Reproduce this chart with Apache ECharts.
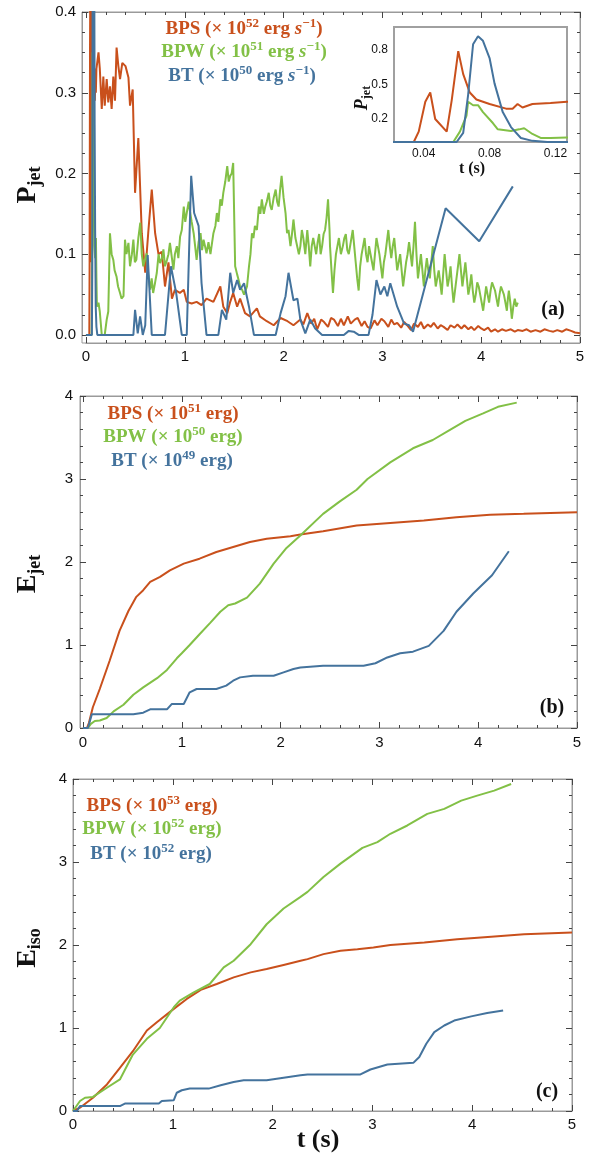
<!DOCTYPE html>
<html>
<head>
<meta charset="utf-8">
<script src="https://cdn.jsdelivr.net/npm/echarts@6.0.0/dist/echarts.min.js"></script>
<style>
  html, body { margin: 0; padding: 0; background: #fff; }
  #main { width: 593px; height: 1155px; }
</style>
</head>
<body>
<div id="main"></div>
<script>
// ---- data: [t (s), value] ----
// (a) jet power; the first points are the early burst shown in the inset
const bpsPower = [
  [0, 0], [0.034, 0], [0.037, 0.09], [0.041, 0.35], [0.044, 0.43], [0.047, 0.2], [0.054, 0.09],
  [0.057, 0.36], [0.061, 0.79], [0.064, 0.59], [0.068, 0.43], [0.072, 0.37], [0.08, 0.33],
  [0.09, 0.29], [0.094, 0.29], [0.097, 0.33], [0.1, 0.3], [0.106, 0.33], [0.117, 0.34], [0.127, 0.35],
  [0.14, 0.33], [0.16, 0.28], [0.176, 0.32], [0.19, 0.284], [0.21, 0.317], [0.226, 0.288], [0.243, 0.308],
  [0.26, 0.28], [0.277, 0.32], [0.294, 0.29], [0.31, 0.356], [0.328, 0.333], [0.345, 0.317], [0.368, 0.337],
  [0.4, 0.333], [0.43, 0.319], [0.446, 0.284], [0.473, 0.304], [0.497, 0.176], [0.53, 0.244], [0.565, 0.126],
  [0.6, 0.077], [0.63, 0.126], [0.666, 0.18], [0.7, 0.126], [0.734, 0.1], [0.767, 0.103], [0.8, 0.06],
  [0.835, 0.09], [0.87, 0.045], [0.9, 0.056], [0.95, 0.052], [0.99, 0.056], [1.02, 0.041], [1.07, 0.039],
  [1.12, 0.041], [1.17, 0.037], [1.22, 0.045], [1.29, 0.041], [1.36, 0.06], [1.39, 0.035], [1.43, 0.027],
  [1.46, 0.041], [1.49, 0.052], [1.53, 0.035], [1.56, 0.045], [1.61, 0.027], [1.66, 0.023], [1.73, 0.033],
  [1.76, 0.023], [1.83, 0.017], [1.9, 0.012], [1.97, 0.021], [2.04, 0.017], [2.1, 0.012], [2.17, 0.019],
  [2.2, 0.013], [2.24, 0.027], [2.28, 0.014], [2.31, 0.02], [2.34, 0.007], [2.38, 0.019], [2.41, 0.016],
  [2.45, 0.01], [2.48, 0.021], [2.51, 0.019], [2.55, 0.011], [2.58, 0.02], [2.61, 0.012], [2.65, 0.023],
  [2.68, 0.014], [2.72, 0.019], [2.75, 0.021], [2.79, 0.011], [2.82, 0.017], [2.85, 0.01], [2.88, 0.008],
  [2.92, 0.018], [2.95, 0.012], [2.99, 0.02], [3.02, 0.017], [3.06, 0.01], [3.09, 0.019], [3.12, 0.013],
  [3.15, 0.015], [3.19, 0.009], [3.22, 0.016], [3.25, 0.012], [3.29, 0.006], [3.32, 0.014], [3.36, 0.01],
  [3.39, 0.016], [3.42, 0.008], [3.46, 0.013], [3.49, 0.01], [3.52, 0.015], [3.56, 0.008], [3.59, 0.012],
  [3.62, 0.01], [3.66, 0.006], [3.69, 0.012], [3.73, 0.009], [3.76, 0.013], [3.8, 0.008], [3.83, 0.012],
  [3.87, 0.007], [3.9, 0.01], [3.93, 0.006], [3.97, 0.011], [4.0, 0.008], [4.03, 0.006], [4.07, 0.009],
  [4.1, 0.004], [4.14, 0.007], [4.17, 0.004], [4.21, 0.007], [4.25, 0.005], [4.3, 0.007], [4.34, 0.004],
  [4.37, 0.006], [4.42, 0.005], [4.46, 0.007], [4.5, 0.004], [4.55, 0.006], [4.6, 0.004], [4.64, 0.007],
  [4.69, 0.005], [4.73, 0.004], [4.77, 0.006], [4.82, 0.004], [4.86, 0.007], [4.91, 0.005], [4.95, 0.003],
  [5.0, 0.002]
];
const bpwPower = [
  [0, 0], [0.058, 0], [0.062, 0.09], [0.066, 0.23], [0.067, 0.35], [0.07, 0.32], [0.073, 0.32],
  [0.076, 0.26], [0.082, 0.165], [0.085, 0.11], [0.093, 0.095], [0.098, 0.11], [0.101, 0.12],
  [0.106, 0.07], [0.111, 0.035], [0.117, 0.035], [0.127, 0.04], [0.14, 0.029], [0.16, 0], [0.19, 0],
  [0.21, 0.019], [0.226, 0.029], [0.243, 0.126], [0.26, 0.1], [0.277, 0.093], [0.29, 0.08], [0.31, 0.072],
  [0.325, 0.06], [0.345, 0.052], [0.36, 0.045], [0.38, 0.048], [0.395, 0.118], [0.41, 0.1], [0.43, 0.114],
  [0.446, 0.085], [0.465, 0.1], [0.48, 0.118], [0.495, 0.09], [0.51, 0.093], [0.53, 0.12],
  [0.55, 0.139], [0.565, 0.1], [0.58, 0.085], [0.6, 0.095], [0.615, 0.101], [0.63, 0.075], [0.65, 0.056],
  [0.665, 0.07], [0.68, 0.052], [0.7, 0.065], [0.717, 0.077], [0.735, 0.1], [0.75, 0.089], [0.77, 0.095],
  [0.784, 0.106], [0.8, 0.085], [0.82, 0.093], [0.835, 0.1], [0.85, 0.114], [0.87, 0.095], [0.885, 0.081],
  [0.9, 0.1], [0.92, 0.11], [0.935, 0.095], [0.953, 0.122], [0.97, 0.13], [0.99, 0.159], [1.005, 0.14],
  [1.02, 0.151], [1.04, 0.165], [1.055, 0.151], [1.07, 0.14], [1.09, 0.126], [1.105, 0.11], [1.12, 0.093],
  [1.14, 0.115], [1.16, 0.126], [1.175, 0.105], [1.19, 0.118], [1.205, 0.11], [1.22, 0.101],
  [1.24, 0.115], [1.26, 0.1], [1.29, 0.126], [1.31, 0.135], [1.325, 0.151], [1.34, 0.14], [1.36, 0.168],
  [1.375, 0.16], [1.39, 0.176], [1.41, 0.19], [1.43, 0.209], [1.445, 0.19], [1.46, 0.197], [1.475, 0.2],
  [1.49, 0.213], [1.51, 0.085], [1.53, 0.075], [1.545, 0.068], [1.56, 0.06], [1.58, 0.056], [1.6, 0.05],
  [1.63, 0.06], [1.65, 0.085], [1.665, 0.1], [1.68, 0.126], [1.695, 0.12], [1.71, 0.135], [1.73, 0.13],
  [1.75, 0.159], [1.765, 0.15], [1.78, 0.168], [1.8, 0.15], [1.815, 0.159], [1.83, 0.165], [1.85, 0.176],
  [1.865, 0.16], [1.88, 0.155], [1.9, 0.17], [1.92, 0.18], [1.935, 0.165], [1.95, 0.159], [1.965, 0.18],
  [1.98, 0.197], [2.0, 0.17], [2.02, 0.151], [2.035, 0.126], [2.05, 0.13], [2.07, 0.11], [2.085, 0.125],
  [2.1, 0.143], [2.12, 0.12], [2.14, 0.118], [2.155, 0.1], [2.17, 0.11], [2.185, 0.13], [2.2, 0.12],
  [2.22, 0.1], [2.24, 0.13], [2.255, 0.11], [2.27, 0.085], [2.285, 0.11], [2.3, 0.12], [2.315, 0.11],
  [2.33, 0.1], [2.345, 0.115], [2.36, 0.125], [2.375, 0.1], [2.39, 0.11], [2.405, 0.125], [2.42, 0.13],
  [2.435, 0.145], [2.45, 0.168], [2.465, 0.13], [2.47, 0.11], [2.485, 0.08], [2.5, 0.052], [2.515, 0.08],
  [2.53, 0.1], [2.545, 0.11], [2.56, 0.12], [2.58, 0.1], [2.6, 0.11], [2.615, 0.12], [2.63, 0.125],
  [2.645, 0.105], [2.66, 0.1], [2.68, 0.115], [2.7, 0.13], [2.715, 0.11], [2.73, 0.09], [2.745, 0.07],
  [2.76, 0.055], [2.775, 0.085], [2.79, 0.1], [2.805, 0.11], [2.82, 0.12], [2.835, 0.1], [2.85, 0.09],
  [2.865, 0.11], [2.88, 0.1], [2.895, 0.09], [2.91, 0.08], [2.925, 0.1], [2.94, 0.12], [2.955, 0.11],
  [2.97, 0.1], [2.985, 0.085], [3.0, 0.07], [3.015, 0.09], [3.03, 0.1], [3.045, 0.115], [3.06, 0.13],
  [3.075, 0.11], [3.09, 0.095], [3.105, 0.11], [3.12, 0.12], [3.135, 0.1], [3.15, 0.08], [3.165, 0.09],
  [3.18, 0.1], [3.195, 0.08], [3.21, 0.06], [3.225, 0.075], [3.24, 0.09], [3.255, 0.1], [3.27, 0.115],
  [3.285, 0.1], [3.3, 0.085], [3.315, 0.11], [3.33, 0.14], [3.345, 0.1], [3.36, 0.07], [3.375, 0.085],
  [3.39, 0.1], [3.405, 0.08], [3.42, 0.06], [3.435, 0.08], [3.45, 0.095], [3.465, 0.08], [3.48, 0.07],
  [3.495, 0.09], [3.51, 0.11], [3.525, 0.08], [3.54, 0.06], [3.555, 0.07], [3.57, 0.08], [3.585, 0.065],
  [3.6, 0.05], [3.615, 0.075], [3.63, 0.1], [3.645, 0.08], [3.66, 0.06], [3.675, 0.07], [3.69, 0.085],
  [3.705, 0.06], [3.72, 0.04], [3.735, 0.055], [3.75, 0.07], [3.765, 0.085], [3.78, 0.1], [3.795, 0.08],
  [3.81, 0.06], [3.825, 0.075], [3.84, 0.09], [3.855, 0.07], [3.87, 0.05], [3.885, 0.06], [3.9, 0.075],
  [3.915, 0.055], [3.93, 0.04], [3.945, 0.05], [3.96, 0.065], [3.975, 0.06], [3.99, 0.05], [4.005, 0.04],
  [4.02, 0.03], [4.035, 0.045], [4.05, 0.06], [4.065, 0.05], [4.08, 0.04], [4.095, 0.055], [4.11, 0.065],
  [4.125, 0.06], [4.14, 0.055], [4.155, 0.045], [4.17, 0.035], [4.185, 0.05], [4.2, 0.06], [4.215, 0.055],
  [4.23, 0.05], [4.245, 0.04], [4.26, 0.03], [4.27, 0.045], [4.28, 0.055], [4.295, 0.04], [4.31, 0.02],
  [4.325, 0.035], [4.34, 0.045], [4.355, 0.035], [4.37, 0.04]
];
const btPower = [
  [0, 0], [0.06, 0], [0.064, 0.08], [0.067, 0.41], [0.07, 0.85], [0.073, 0.92], [0.076, 0.88],
  [0.08, 0.73], [0.083, 0.51], [0.088, 0.26], [0.093, 0.13], [0.099, 0.035], [0.106, 0.01], [0.115, 0],
  [0.48, 0], [0.497, 0.031], [0.524, 0.002], [0.548, 0.023], [0.575, 0], [0.6, 0.012], [0.625, 0.099],
  [0.666, 0], [0.8, 0], [0.86, 0.085], [0.913, 0.052], [0.97, 0], [1.02, 0], [1.065, 0.197],
  [1.095, 0.151], [1.14, 0.135], [1.17, 0.064], [1.22, 0], [1.34, 0], [1.376, 0.031], [1.42, 0.019],
  [1.46, 0.077], [1.49, 0.052], [1.53, 0.068], [1.56, 0.056], [1.6, 0.064], [1.65, 0.035], [1.7, 0],
  [1.92, 0], [1.97, 0.027], [2.02, 0.048], [2.05, 0.077], [2.1, 0.043], [2.14, 0.045], [2.17, 0.019],
  [2.22, 0.002], [2.27, 0.019], [2.32, 0.008], [2.39, 0], [2.61, 0], [2.66, 0.005], [2.71, 0.004],
  [2.76, 0], [2.86, 0], [2.9, 0.025], [2.94, 0.068], [2.98, 0.05], [3.02, 0.06], [3.05, 0.048],
  [3.08, 0.064], [3.15, 0.035], [3.22, 0.014], [3.27, 0.012], [3.31, 0.004], [3.64, 0.157],
  [3.98, 0.116], [4.32, 0.184]
];
// (b) jet energy
const bpsEjet = [
  [0, 0], [0.04, 0], [0.06, 0.06], [0.1, 0.25], [0.17, 0.47], [0.27, 0.81], [0.37, 1.17], [0.46, 1.41],
  [0.54, 1.58], [0.61, 1.66], [0.68, 1.76], [0.78, 1.82], [0.88, 1.9], [1.02, 1.98], [1.18, 2.04],
  [1.35, 2.12], [1.52, 2.18], [1.69, 2.24], [1.86, 2.28], [2.1, 2.31], [2.2, 2.33], [2.43, 2.37],
  [2.77, 2.44], [3.11, 2.47], [3.45, 2.5], [3.78, 2.54], [4.12, 2.57], [4.46, 2.58], [5.0, 2.6]
];
const bpwEjet = [
  [0, 0], [0.05, 0], [0.08, 0.05], [0.12, 0.085], [0.17, 0.09], [0.24, 0.12], [0.31, 0.2], [0.41, 0.28],
  [0.51, 0.4], [0.61, 0.49], [0.75, 0.6], [0.85, 0.7], [0.95, 0.84], [1.0, 0.9], [1.08, 1.0],
  [1.18, 1.13], [1.29, 1.27], [1.39, 1.4], [1.47, 1.48], [1.54, 1.5], [1.66, 1.57], [1.79, 1.74],
  [1.93, 1.98], [2.06, 2.17], [2.2, 2.32], [2.43, 2.58], [2.6, 2.73], [2.77, 2.87], [2.88, 3.0],
  [3.11, 3.2], [3.34, 3.37], [3.54, 3.47], [3.71, 3.59], [3.87, 3.7], [4.05, 3.79], [4.2, 3.87], [4.39, 3.92]
];
const btEjet = [
  [0, 0], [0.05, 0], [0.09, 0.165], [0.51, 0.165], [0.61, 0.185], [0.68, 0.225], [0.85, 0.225],
  [0.9, 0.29], [1.02, 0.29], [1.08, 0.43], [1.15, 0.47], [1.35, 0.47], [1.45, 0.51], [1.52, 0.57],
  [1.59, 0.61], [1.72, 0.63], [1.93, 0.63], [2.03, 0.67], [2.13, 0.71], [2.2, 0.73], [2.43, 0.75],
  [2.84, 0.75], [2.96, 0.78], [3.08, 0.85], [3.21, 0.9], [3.34, 0.92], [3.5, 0.99], [3.65, 1.17],
  [3.78, 1.4], [3.95, 1.62], [4.14, 1.84], [4.31, 2.13]
];
// (c) isotropic energy
const bpsEiso = [
  [0, 0], [0.02, 0], [0.07, 0.04], [0.2, 0.16], [0.34, 0.32], [0.47, 0.52], [0.6, 0.72], [0.74, 0.97],
  [0.84, 1.07], [1.01, 1.23], [1.14, 1.35], [1.28, 1.46], [1.44, 1.53], [1.61, 1.61], [1.78, 1.67],
  [1.94, 1.71], [2.11, 1.76], [2.28, 1.81], [2.35, 1.83], [2.51, 1.89], [2.68, 1.93], [2.85, 1.95],
  [3.01, 1.97], [3.18, 2.0], [3.52, 2.03], [3.85, 2.07], [4.19, 2.1], [4.52, 2.13], [5.0, 2.15]
];
const bpwEiso = [
  [0, 0], [0.02, 0], [0.07, 0.12], [0.12, 0.16], [0.2, 0.17], [0.34, 0.28], [0.47, 0.38], [0.6, 0.68],
  [0.74, 0.87], [0.87, 1.0], [1.01, 1.25], [1.07, 1.33], [1.21, 1.43], [1.37, 1.53], [1.51, 1.73],
  [1.61, 1.81], [1.78, 2.01], [1.94, 2.25], [2.11, 2.44], [2.28, 2.58], [2.35, 2.64], [2.51, 2.82],
  [2.68, 2.98], [2.9, 3.17], [3.05, 3.24], [3.18, 3.34], [3.35, 3.44], [3.55, 3.58], [3.72, 3.64],
  [3.89, 3.74], [4.05, 3.8], [4.22, 3.86], [4.39, 3.94]
];
const btEiso = [
  [0, 0], [0.04, 0], [0.07, 0.06], [0.47, 0.06], [0.52, 0.09], [0.86, 0.09], [0.89, 0.12], [1.01, 0.13],
  [1.04, 0.22], [1.09, 0.25], [1.17, 0.27], [1.36, 0.27], [1.48, 0.31], [1.61, 0.35], [1.71, 0.37],
  [1.94, 0.37], [2.11, 0.4], [2.28, 0.43], [2.35, 0.44], [2.88, 0.44], [2.98, 0.5], [3.15, 0.56],
  [3.41, 0.58], [3.47, 0.65], [3.54, 0.81], [3.62, 0.95], [3.72, 1.03], [3.82, 1.09], [3.99, 1.14],
  [4.15, 1.18], [4.31, 1.21]
];

// tick labels: [first, last, step]
const timeTicks = [0, 5, 1];
const powerTicks = [0, 0.4, 0.1];
const energyTicks = [0, 4, 1];
const insetTimeTicks = [0.04, 0.12, 0.04];
const insetPowerTicks = [0.2, 0.8, 0.3];

const RED = '#c9501c', GREEN = '#82c046', BLUE = '#44739d';
const FRAME = '#9a9a9a', TICK = '#444';
const SANS = '"Liberation Sans", Arial, sans-serif';
const SERIF = '"Liberation Serif", "Times New Roman", serif';

const grids = [], xAxes = [], yAxes = [];
const hidden = g => ({gridIndex: g, type: 'value', show: false, min: 0, max: 1});

// plotting box with a frame and hidden axes; returns axis indices for series
function dataBox(box, xr, yr, border, bw, bg) {
  const g = grids.length;
  grids.push(Object.assign({show: true, borderColor: border, borderWidth: bw, backgroundColor: bg}, box));
  const xi = xAxes.length, yi = yAxes.length;
  xAxes.push({gridIndex: g, type: 'value', show: false, min: xr[0], max: xr[1]});
  yAxes.push({gridIndex: g, type: 'value', show: false, min: yr[0], max: yr[1]});
  return {xi, yi};
}

// an axis pair (bottom+top or left+right) spanning exactly first..last tick
function tickAxes(dim, box, t, opt) {
  const g = grids.length;
  grids.push(Object.assign({show: false}, box));
  const common = {gridIndex: g, type: 'value', min: t[0], max: t[1], interval: t[2],
    splitLine: {show: false},
    axisLine: {show: opt.len > 0, onZero: false, lineStyle: {color: FRAME, width: 1}},
    axisTick: {show: opt.len > 0, inside: true, length: opt.len, lineStyle: {color: TICK, width: 1}},
    minorTick: {show: opt.minor > 0, splitNumber: opt.minor || 5, length: 3, lineStyle: {color: TICK, width: 1}}};
  const label = {show: true, formatter: opt.fmt, color: '#111', fontFamily: SANS,
    fontSize: opt.fontSize, margin: opt.margin, showMinLabel: true, showMaxLabel: true};
  const pos = dim === 'x' ? ['bottom', 'top'] : ['left', 'right'];
  const main = dim === 'x' ? xAxes : yAxes, other = dim === 'x' ? yAxes : xAxes;
  main.push(Object.assign({}, common, {position: pos[0], axisLabel: label}));
  if (opt.both) main.push(Object.assign({}, common, {position: pos[1], axisLabel: {show: false}}));
  other.push(hidden(g));
}

const fmtInt = v => String(Math.round(v));
const fmt1 = v => v.toFixed(1);

// (a)  t=0 at x 86, P=0 at y 335
const A = dataBox({left: 82, top: 12, width: 498, height: 331}, [-0.04, 5], [-0.01, 0.4], FRAME, 1, 'transparent');
tickAxes('x', {left: 86, top: 12, width: 494, height: 331}, timeTicks,
  {len: 6, minor: 5, fontSize: 15, margin: 6, fmt: fmtInt, both: true});
tickAxes('y', {left: 82, top: 12, width: 498, height: 323}, powerTicks,
  {len: 6, minor: 4, fontSize: 15, margin: 6, fmt: fmt1, both: true});
// (b)  t=0 at x 83
const B = dataBox({left: 80, top: 396, width: 497, height: 332}, [-0.03, 5], [0, 4], FRAME, 1, 'transparent');
tickAxes('x', {left: 83, top: 396, width: 494, height: 332}, timeTicks,
  {len: 6, minor: 5, fontSize: 15, margin: 7, fmt: fmtInt, both: true});
tickAxes('y', {left: 80, top: 396, width: 497, height: 332}, energyTicks,
  {len: 6, minor: 5, fontSize: 15, margin: 7, fmt: fmtInt, both: true});
// (c)
const C = dataBox({left: 73, top: 779, width: 499, height: 332}, [0, 5], [0, 4], FRAME, 1, 'transparent');
tickAxes('x', {left: 73, top: 779, width: 499, height: 332}, timeTicks,
  {len: 6, minor: 5, fontSize: 15, margin: 6, fmt: fmtInt, both: true});
tickAxes('y', {left: 73, top: 779, width: 499, height: 332}, energyTicks,
  {len: 6, minor: 5, fontSize: 15, margin: 6, fmt: fmtInt, both: true});
// inset: x 0.022..0.127 over 394..567, y 0..1 over 142..27
const I = dataBox({left: 394, top: 27, width: 173, height: 115}, [0.022, 0.127], [0, 1], '#a0a0a0', 2, '#fff');
tickAxes('x', {left: 423.7, top: 27, width: 131.8, height: 115}, insetTimeTicks,
  {len: 0, minor: 0, fontSize: 12, margin: 6, fmt: v => v.toFixed(2), both: false});
tickAxes('y', {left: 394, top: 50, width: 173, height: 69}, insetPowerTicks,
  {len: 0, minor: 0, fontSize: 12, margin: 6, fmt: fmt1, both: false});

function line(ax, data, color) {
  return {type: 'line', xAxisIndex: ax.xi, yAxisIndex: ax.yi, data: data, showSymbol: false,
    symbol: 'none', silent: true, clip: true, lineStyle: {color: color, width: 2}};
}

const series = [
  line(A, bpsPower, RED), line(A, bpwPower, GREEN), line(A, btPower, BLUE),
  line(B, bpsEjet, RED), line(B, bpwEjet, GREEN), line(B, btEjet, BLUE),
  line(C, bpsEiso, RED), line(C, bpwEiso, GREEN), line(C, btEiso, BLUE),
  line(I, bpsPower, RED), line(I, bpwPower, GREEN), line(I, btPower, BLUE)
];

// ---- text ----
function legendRich(color, size) {
  const f = {fontFamily: SERIF, fontWeight: 'bold', fill: color};
  return {
    n: Object.assign({fontSize: size, lineHeight: 24, verticalAlign: 'middle'}, f),
    i: Object.assign({fontSize: size, lineHeight: 24, verticalAlign: 'middle', fontStyle: 'italic'}, f),
    sup: Object.assign({fontSize: 13, lineHeight: 13, verticalAlign: 'top'}, f)
  };
}
function legendText(x, y, color, text) {
  return {type: 'text', x: x, y: y, silent: true,
    style: {text: text, rich: legendRich(color, 19), align: 'center', verticalAlign: 'middle'}};
}
function axisTitle(x, y, main, sub, size, subSize, italic, rot) {
  const f = {fontFamily: SERIF, fontWeight: 'bold', fill: '#111'};
  return {type: 'text', x: x, y: y, rotation: rot, silent: true,
    style: {text: '{b|' + main + '}{s|' + sub + '}', align: 'center', verticalAlign: 'middle',
      rich: {
        b: Object.assign({fontSize: size, lineHeight: size + 4, verticalAlign: 'middle',
          fontStyle: italic ? 'italic' : 'normal'}, f),
        s: Object.assign({fontSize: subSize, lineHeight: subSize, verticalAlign: 'bottom'}, f)
      }}};
}
function plain(x, y, text, size) {
  return {type: 'text', x: x, y: y, silent: true,
    style: {text: text, fontFamily: SERIF, fontWeight: 'bold', fontSize: size, fill: '#111',
      align: 'center', verticalAlign: 'middle'}};
}

const graphic = [
  legendText(244, 29, RED, '{n|BPS (× 10}{sup|52}{n| erg }{i|s}{sup|−1}{n|)}'),
  legendText(244, 52, GREEN, '{n|BPW (× 10}{sup|51}{n| erg }{i|s}{sup|−1}{n|)}'),
  legendText(242, 76, BLUE, '{n|BT (× 10}{sup|50}{n| erg }{i|s}{sup|−1}{n|)}'),
  legendText(173, 414, RED, '{n|BPS (× 10}{sup|51}{n| erg)}'),
  legendText(173, 437, GREEN, '{n|BPW (× 10}{sup|50}{n| erg)}'),
  legendText(172, 461, BLUE, '{n|BT (× 10}{sup|49}{n| erg)}'),
  legendText(152, 806, RED, '{n|BPS (× 10}{sup|53}{n| erg)}'),
  legendText(152, 829, GREEN, '{n|BPW (× 10}{sup|52}{n| erg)}'),
  legendText(151, 854, BLUE, '{n|BT (× 10}{sup|52}{n| erg)}'),
  axisTitle(28, 185, 'P', 'jet', 28, 18, false, Math.PI / 2),
  axisTitle(28, 574, 'E', 'jet', 28, 18, false, Math.PI / 2),
  axisTitle(28, 948, 'E', 'iso', 28, 18, false, Math.PI / 2),
  axisTitle(362, 98, 'P', 'jet', 18, 12, true, Math.PI / 2),
  plain(472, 169, 't (s)', 16),
  plain(318, 1140, 't (s)', 26),
  plain(553, 310, '(a)', 20),
  plain(552, 708, '(b)', 20),
  plain(547, 1092, '(c)', 20)
];

const chart = echarts.init(document.getElementById('main'), null, {renderer: 'canvas'});
chart.setOption({
  animation: false,
  backgroundColor: '#fff',
  grid: grids,
  xAxis: xAxes,
  yAxis: yAxes,
  series: series,
  graphic: graphic
});
window.addEventListener('resize', function () {
  chart.resize();
});
</script>
</body>
</html>
